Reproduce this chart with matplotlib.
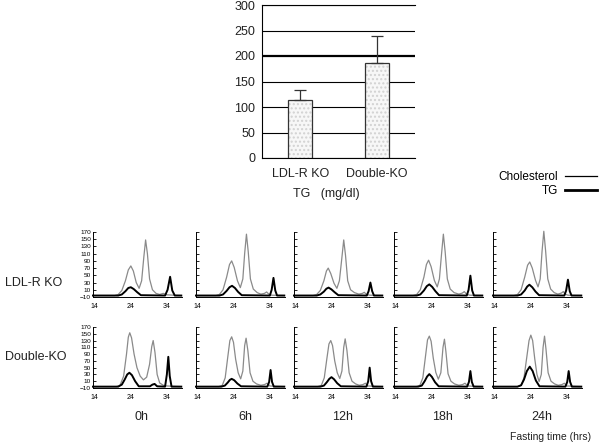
#TG bar chart + FPLC profiles (LDL-R KO vs Double-KO, fasting time course)
import numpy as np
import matplotlib.pyplot as plt
from matplotlib.lines import Line2D

plt.rcParams['font.family'] = ['Liberation Sans', 'DejaVu Sans']

# --- bar chart data ---
groups = ['LDL-R KO', 'Double-KO']
tg_mean = [113, 187]
tg_err = [20, 53]

# --- FPLC profiles: digitized (fraction, value) vertices, one list per panel ---
times = ['0h', '6h', '12h', '18h', '24h']
frac_ticks = [14, 24, 34]

ldlr_chol_x = [
    [13.5, 19.5, 20.5, 21.5, 22.5, 23.3, 24.0, 24.7, 25.5, 26.3, 27.0, 27.6, 28.1, 28.6, 29.2, 30.0, 31.0, 32.0, 33.0, 34.0, 38.0],
    [13.5, 19.0, 20.0, 21.0, 22.0, 22.8, 23.4, 24.1, 25.0, 25.8, 26.5, 27.0, 27.5, 28.0, 28.6, 29.4, 30.5, 31.5, 32.5, 33.1, 33.7, 34.5, 38.0],
    [13.5, 18.8, 19.8, 20.8, 21.8, 22.5, 23.0, 23.7, 24.6, 25.4, 26.1, 26.8, 27.3, 27.8, 28.4, 29.2, 30.3, 31.5, 32.5, 33.0, 33.6, 34.5, 38.0],
    [13.5, 18.8, 19.8, 20.8, 21.8, 22.5, 23.1, 23.8, 24.7, 25.5, 26.1, 26.7, 27.2, 27.7, 28.3, 29.1, 30.2, 31.5, 32.5, 33.0, 33.6, 34.5, 38.0],
    [13.5, 19.3, 20.3, 21.3, 22.3, 23.1, 23.7, 24.4, 25.3, 26.0, 26.6, 27.1, 27.6, 28.1, 28.7, 29.5, 30.5, 31.5, 32.5, 33.0, 33.5, 34.3, 38.0],
]
ldlr_chol_y = [
    [-6, -6, -3, 8, 35, 65, 76, 62, 30, 14, 35, 100, 148, 110, 40, 10, 0, -3, 0, -4, -6],
    [-6, -6, -3, 10, 45, 80, 90, 72, 35, 16, 40, 110, 164, 115, 40, 12, 2, -2, 0, 4, -2, -5, -6],
    [-6, -6, -3, 8, 35, 62, 70, 55, 28, 14, 35, 100, 148, 105, 35, 10, 2, -2, 0, 3, -3, -5, -6],
    [-6, -6, -3, 10, 45, 80, 92, 74, 36, 18, 40, 110, 164, 115, 40, 12, 2, -2, 1, 5, -2, -5, -6],
    [-6, -6, -3, 10, 45, 78, 87, 70, 36, 18, 40, 115, 172, 118, 40, 12, 2, -2, 1, 5, -2, -5, -6],
]
ldlr_tg_x = [
    [13.5, 20.5, 21.5, 22.5, 23.3, 24.0, 24.8, 25.8, 26.8, 33.5, 34.2, 34.9, 35.5, 36.2, 38.0],
    [13.5, 20.0, 21.0, 22.0, 22.8, 23.5, 24.3, 25.2, 26.2, 34.0, 34.5, 35.0, 35.5, 36.0, 38.0],
    [13.5, 19.8, 20.8, 21.8, 22.5, 23.1, 23.9, 24.8, 25.8, 33.7, 34.2, 34.7, 35.2, 35.7, 38.0],
    [13.5, 19.8, 20.8, 21.8, 22.6, 23.3, 24.1, 25.0, 26.0, 33.7, 34.2, 34.7, 35.2, 35.7, 38.0],
    [13.5, 20.3, 21.3, 22.3, 23.0, 23.6, 24.4, 25.3, 26.3, 33.3, 33.8, 34.3, 34.8, 35.3, 38.0],
]
ldlr_tg_y = [
    [-6, -6, -3, 6, 15, 17, 12, 3, -5, -6, 10, 46, 8, -6, -6],
    [-6, -6, -3, 7, 17, 21, 15, 4, -5, -6, 10, 43, 8, -6, -6],
    [-6, -6, -3, 5, 13, 16, 11, 3, -5, -6, 6, 30, 6, -6, -6],
    [-6, -6, -3, 8, 20, 25, 18, 6, -5, -6, 10, 49, 8, -6, -6],
    [-6, -6, -3, 8, 19, 24, 17, 5, -5, -6, 8, 38, 6, -6, -6],
]

dko_chol_x = [
    [13.5, 20.0, 21.0, 22.0, 22.8, 23.3, 23.7, 24.2, 24.9, 25.7, 26.6, 27.5, 28.4, 29.2, 29.8, 30.2, 30.7, 31.3, 32.0, 33.0, 34.0, 38.0],
    [13.5, 19.8, 20.8, 21.6, 22.3, 22.9, 23.4, 23.9, 24.5, 25.2, 25.9, 26.5, 27.0, 27.4, 27.9, 28.5, 29.3, 30.3, 31.5, 32.5, 33.2, 34.0, 38.0],
    [13.5, 20.1, 21.1, 21.9, 22.6, 23.2, 23.7, 24.2, 24.8, 25.5, 26.2, 26.8, 27.3, 27.7, 28.2, 28.8, 29.6, 30.6, 31.6, 32.6, 33.3, 34.0, 38.0],
    [13.5, 19.7, 20.7, 21.5, 22.2, 22.8, 23.3, 23.8, 24.4, 25.1, 25.8, 26.5, 27.1, 27.5, 27.9, 28.5, 29.3, 30.3, 31.5, 32.5, 33.2, 34.0, 38.0],
    [13.5, 20.3, 21.3, 22.1, 22.8, 23.5, 24.0, 24.5, 25.1, 25.7, 26.3, 26.9, 27.4, 27.8, 28.2, 28.8, 29.6, 30.6, 31.6, 32.6, 33.3, 34.0, 38.0],
]
dko_chol_y = [
    [-6, -6, -2, 25, 90, 140, 153, 138, 90, 50, 25, 14, 22, 60, 112, 130, 95, 30, 5, -2, -4, -6],
    [-6, -6, -2, 20, 80, 130, 141, 125, 75, 35, 17, 40, 115, 137, 100, 35, 10, 2, -2, 0, 4, -4, -6],
    [-6, -6, -2, 20, 75, 120, 130, 115, 70, 35, 18, 40, 110, 135, 100, 35, 10, 2, -2, 0, 4, -4, -6],
    [-6, -6, -2, 20, 80, 132, 143, 128, 78, 36, 16, 35, 110, 134, 98, 32, 10, 2, -2, 0, 4, -4, -6],
    [-6, -6, -2, 20, 75, 130, 146, 130, 75, 30, 9, 30, 110, 143, 105, 35, 10, 2, -2, 0, 4, -4, -6],
]
dko_tg_x = [
    [13.5, 20.5, 21.5, 22.3, 23.0, 23.6, 24.3, 25.2, 26.2, 29.3, 30.0, 30.6, 31.3, 33.5, 34.0, 34.4, 34.8, 35.3, 38.0],
    [13.5, 20.5, 21.5, 22.3, 22.9, 23.4, 24.1, 25.0, 26.0, 33.3, 33.8, 34.2, 34.6, 35.1, 38.0],
    [13.5, 20.8, 21.8, 22.6, 23.3, 23.9, 24.6, 25.5, 26.5, 33.6, 34.1, 34.5, 34.9, 35.4, 38.0],
    [13.5, 20.2, 21.2, 22.0, 22.7, 23.3, 24.0, 24.9, 25.9, 33.8, 34.3, 34.7, 35.1, 35.6, 38.0],
    [13.5, 20.3, 21.3, 22.1, 22.9, 23.7, 24.5, 25.4, 26.4, 33.6, 34.1, 34.5, 34.9, 35.4, 38.0],
]
dko_tg_y = [
    [-6, -6, 0, 15, 30, 35, 28, 10, -5, -5, 0, 2, -5, -6, 30, 82, 25, -6, -6],
    [-6, -6, -3, 6, 14, 17, 13, 3, -5, -6, 8, 43, 8, -6, -6],
    [-6, -6, -3, 7, 17, 22, 16, 4, -5, -6, 10, 50, 10, -6, -6],
    [-6, -6, -3, 10, 24, 31, 23, 7, -5, -6, 8, 40, 8, -6, -6],
    [-6, -6, -2, 15, 40, 53, 40, 12, -5, -6, 8, 40, 8, -6, -6],
]

W, H = 600, 443
def box(l, t, r, b):  # pixel box -> figure fraction
    return [l / W, 1 - b / H, (r - l) / W, (b - t) / H]

fig = plt.figure(figsize=(W / 100, H / 100), dpi=100)

# ---------------- bar chart ----------------
ax = fig.add_axes(box(262, 5, 415, 158))
xpos = np.arange(len(groups))
# light stipple fill first, outline on top
ax.bar(xpos, tg_mean, width=0.31, color='#f7f7f7', edgecolor='#d2d2d2', hatch='....', linewidth=0, zorder=3)
ax.bar(xpos, tg_mean, width=0.31, fill=False, edgecolor='#333333', linewidth=0.9, zorder=4)
ax.errorbar(xpos, tg_mean, yerr=[np.zeros(len(tg_err)), tg_err], fmt='none', ecolor='#333333',
            elinewidth=0.9, capsize=4, capthick=0.9, zorder=5)
ax.set_xlim(-0.5, 1.5)
ax.set_ylim(0, 300)
ax.set_yticks(range(0, 301, 50))
ax.yaxis.grid(True, color='black', linewidth=0.8)
ax.get_ygridlines()[4].set_linewidth(1.6)
ax.set_axisbelow(True)
ax.spines['right'].set_visible(False)
for s in ['top', 'left', 'bottom']:
    ax.spines[s].set_linewidth(0.8)
ax.set_xticks(xpos, groups)
ax.tick_params(axis='x', length=0, pad=7, labelsize=9, labelcolor='#222222')
ax.tick_params(axis='y', length=0, pad=5, labelsize=9, labelcolor='#222222')
ax.text(0.418, -0.235, 'TG   (mg/dl)', transform=ax.transAxes, ha='center', va='center', fontsize=9, color='#222222')

# legend (text left of line)
handles = [Line2D([], [], color='black', lw=0.9), Line2D([], [], color='black', lw=2.0)]
fig.legend(handles, ['Cholesterol', 'TG'], markerfirst=False, frameon=False, loc='upper right',
           bbox_to_anchor=(597 / W, 1 - 171 / H), fontsize=8.5, handlelength=2.7, handletextpad=0.6,
           labelspacing=0.2, borderpad=0, borderaxespad=0)

# ---------------- FPLC panels ----------------
lefts = [93, 196, 294, 394, 493]
tops = [232, 327]
bottoms = [297, 388]
rows = [(ldlr_chol_x, ldlr_chol_y, ldlr_tg_x, ldlr_tg_y),
        (dko_chol_x, dko_chol_y, dko_tg_x, dko_tg_y)]

for r, (cx, cy, tx, ty) in enumerate(rows):
    for c in range(len(times)):
        a = fig.add_axes(box(lefts[c], tops[r], lefts[c] + 89, bottoms[r]))
        a.patch.set_visible(False)
        a.plot(cx[c], cy[c], color='#8a8a8a', lw=0.9, clip_on=False)
        a.plot(tx[c], ty[c], color='black', lw=1.4, clip_on=False)
        a.set_xlim(13.5, 38.2)
        a.set_ylim(-10, 170)
        a.spines['top'].set_visible(False)
        a.spines['right'].set_visible(False)
        a.spines['left'].set_linewidth(0.7)
        a.spines['bottom'].set_linewidth(0.7)
        a.set_xticks(frac_ticks)
        a.tick_params(axis='x', length=0, pad=4, labelsize=5)
        a.set_yticks(range(-10, 171, 20))
        a.tick_params(axis='y', direction='in', length=2, width=0.6, pad=1.5, labelsize=4.6)
        if c > 0:
            a.set_yticklabels([])
        if r == 1:
            a.text(0.55, -0.47, times[c], transform=a.transAxes, ha='center', va='center', fontsize=9, color='#222222')

fig.text(5 / W, 1 - 283 / H, 'LDL-R KO', ha='left', va='center', fontsize=9, color='#222222')
fig.text(5 / W, 1 - 357 / H, 'Double-KO', ha='left', va='center', fontsize=9, color='#222222')
fig.text(591 / W, 1 - 437 / H, 'Fasting time (hrs)', ha='right', va='center', fontsize=7.5, color='#222222')

plt.savefig('out.png', dpi=100)
